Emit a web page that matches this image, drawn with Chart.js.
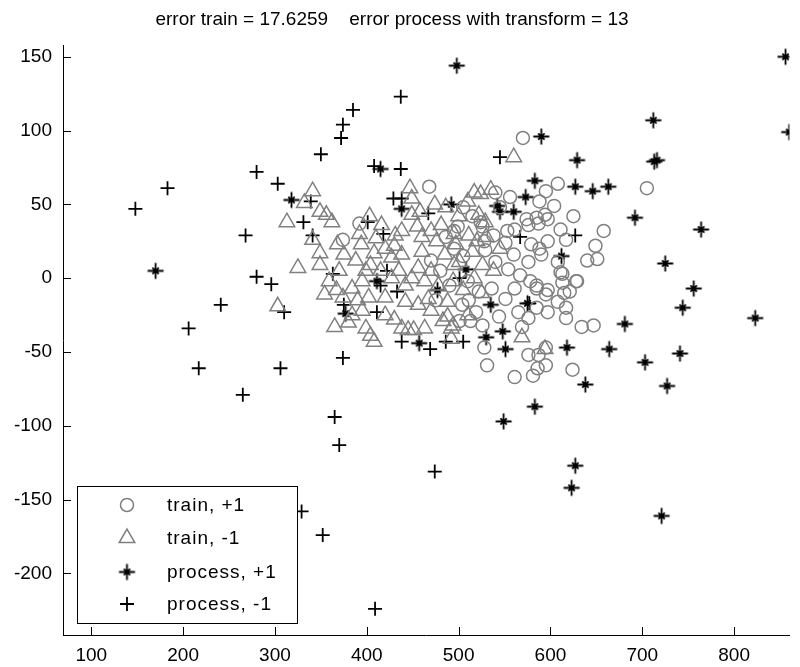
<!DOCTYPE html>
<html>
<head>
<meta charset="utf-8">
<title>error train / error process</title>
<script src="https://cdn.jsdelivr.net/npm/chart.js@4/dist/chart.umd.min.js"></script>
<style>
  html, body { margin: 0; padding: 0; background: #fff; overflow: hidden; }
  canvas { display: block; }
</style>
</head>
<body>
<canvas id="scatter" width="800" height="667"></canvas>
<script>
// tick values
const xTicks = [100, 200, 300, 400, 500, 600, 700, 800];
const yTicks = [-200, -150, -100, -50, 0, 50, 100, 150];

const titleText = 'error train = 17.6259    error process with transform = 13';
const seriesLabels = ['train, +1', 'train, -1', 'process, +1', 'process, -1'];

// train set, class +1 (circles)
const trainPos = [
  [570, 95], [468, 62], [705, 61], [658, 32], [625, 42], [608, 64], [595, 59], [604, 49],
  [588, 52], [585, 41], [597, 40], [611, 33], [597, 25], [649, 22], [617, 26], [640, 12],
  [651, 13], [628, -2], [611, 4], [634, -33], [647, -32], [597, -23], [617, -27], [617, -20],
  [595, -59], [586, -61], [587, -52], [595, -11], [585, -5], [588, 20], [621, -9], [624, -62],
  [499, 35], [526, 35], [561, 33], [576, 36], [587, 37], [594, 43], [579, 23], [590, 16],
  [608, 11], [576, 11], [560, 16], [567, 2], [554, 6], [540, 11], [529, 19], [551, 24],
  [613, 3], [629, -2], [613, -3], [597, -8], [615, -10], [608, -16], [585, -7], [578, -2],
  [561, -7], [551, -14], [536, -7], [522, -9], [511, -15], [504, -18], [519, -23], [544, -26],
  [565, -23], [576, -27], [585, -20], [569, -33], [526, -32], [513, -29], [501, -29], [528, -47],
  [531, -59], [576, -52], [561, -67], [595, -47], [581, -66], [392, 37], [374, 26], [574, 40],
  [524, 38], [538, 29], [553, 32], [528, 25], [495, 32], [480, 5], [490, -5], [475, -15],
  [505, 15], [495, 20], [510, -2], [470, 12], [505, 48], [515, 42], [545, 48], [556, 55],
  [540, 58], [486, 28]
];

// train set, class -1 (triangles)
const trainNeg = [
  [332, 51], [313, 38], [303, -19], [325, 7], [560, 82], [447, 61], [517, 58], [535, 60],
  [341, 59], [349, 45], [356, 43], [362, 38], [449, 54], [486, 48], [510, 52], [524, 57],
  [341, 26], [349, 17], [349, 9], [368, 23], [375, 16], [388, 12], [394, 23], [403, 42],
  [449, 43], [438, 32], [431, 29], [410, 27], [408, 17], [420, 20], [427, 14], [404, 9],
  [438, 16], [460, 18], [470, 32], [481, 36], [476, 25], [485, 16], [495, 9], [470, 5],
  [456, 7], [449, 0], [463, -2], [435, 5], [395, -2], [384, -7], [367, -8], [359, -2],
  [354, -11], [374, -13], [390, -15], [402, -13], [420, -13], [442, -16], [456, -18], [467, -14],
  [488, -16], [488, -26], [483, -29], [492, -34], [365, -33], [399, -34], [404, -39], [408, -43],
  [420, -25], [384, -25], [438, -34], [445, -35], [451, -35], [463, -34], [427, 0], [399, 5],
  [497, 23], [511, 29], [520, 25], [515, 18], [501, 11], [526, 9], [522, 43], [529, 38],
  [494, -2], [517, 0], [594, -48], [569, -40], [494, -32], [492, -41], [458, 45], [474, 50],
  [500, 42], [460, 28], [430, 22], [415, 5], [442, -5], [478, -5], [505, -8], [470, -22],
  [430, -28], [395, -22], [380, -30], [510, -25], [525, -10], [538, 5], [545, 20], [530, 28],
  [416, 36], [392, 30], [370, 5], [455, 35], [495, 30]
];

// processed set, class +1 (asterisks)
const procPos = [
  [856, 150], [860, 99], [712, 107], [713, 79], [716, 80], [590, 96], [629, 80], [583, 66],
  [627, 62], [646, 59], [663, 62], [573, 55], [692, 41], [764, 33], [498, 144], [415, 74],
  [438, 47], [492, 50], [542, 49], [545, 45], [560, 45], [318, 53], [170, 5], [411, -2],
  [477, -8], [508, 6], [535, -18], [575, -17], [377, -24], [530, -40], [548, -36], [551, -48],
  [457, -44], [549, -97], [583, -87], [612, 15], [725, 10], [756, -7], [744, -20], [823, -27],
  [681, -31], [618, -47], [664, -48], [703, -57], [741, -51], [638, -72], [727, -73], [627, -127],
  [623, -142], [721, -161]
];

// processed set, class -1 (plus signs)
const procNeg = [
  [280, 72], [303, 64], [183, 61], [148, 47], [331, 38], [268, 29], [437, 123], [385, 114],
  [374, 104], [372, 95], [350, 84], [408, 76], [437, 74], [545, 82], [429, 54], [438, 54],
  [467, 44], [339, 52], [341, 29], [401, 38], [418, 30], [567, 28], [627, 29], [280, 1],
  [296, -4], [241, -18], [310, -23], [206, -34], [217, -61], [306, -61], [265, -79], [363, 3],
  [422, 5], [415, -5], [433, -9], [501, 0], [577, -17], [375, -18], [411, -23], [438, -43],
  [469, -48], [486, -43], [505, -43], [374, -54], [365, -94], [370, -113], [474, -131], [329, -158],
  [352, -174], [409, -224]
];

const FONT = '"Liberation Sans", Arial, Helvetica, sans-serif';
const GREY = '#808080';

// MATLAB-like '*' marker: plus with short diagonals and a dark centre
function makeAsterisk() {
  const c = document.createElement('canvas');
  c.width = 19; c.height = 19;
  const g = c.getContext('2d');
  g.strokeStyle = '#000';
  g.fillStyle = '#000';
  g.lineWidth = 1.8;
  g.beginPath();
  g.moveTo(9.5, 1.5); g.lineTo(9.5, 17.5);
  g.moveTo(1.5, 9.5); g.lineTo(17.5, 9.5);
  g.moveTo(6.3, 6.3); g.lineTo(12.7, 12.7);
  g.moveTo(12.7, 6.3); g.lineTo(6.3, 12.7);
  g.stroke();
  g.beginPath();
  g.arc(9.5, 9.5, 2.4, 0, Math.PI * 2);
  g.fill();
  return c;
}
const asterisk = makeAsterisk();

const toXY = arr => arr.map(p => ({ x: p[0], y: p[1] }));

const datasets = [
  { label: seriesLabels[0], data: toXY(trainPos), pointStyle: 'circle', pointRadius: 6.5,
    borderColor: GREY, backgroundColor: 'rgba(0,0,0,0)', borderWidth: 1.5 },
  { label: seriesLabels[1], data: toXY(trainNeg), pointStyle: 'triangle', pointRadius: 9,
    borderColor: GREY, backgroundColor: 'rgba(0,0,0,0)', borderWidth: 1.5 },
  { label: seriesLabels[2], data: toXY(procPos), pointStyle: asterisk, pointRadius: 8,
    borderColor: '#000', backgroundColor: '#000', borderWidth: 1.8 },
  { label: seriesLabels[3], data: toXY(procNeg), pointStyle: 'cross', pointRadius: 7,
    borderColor: '#000', backgroundColor: '#000', borderWidth: 1.8 }
];

// legend marker, same shapes as the plotted points
function drawMarker(ctx, ds, x, y) {
  const st = ds.pointStyle, r = ds.pointRadius;
  if (st instanceof HTMLCanvasElement) {
    ctx.drawImage(st, x - st.width / 2, y - st.height / 2);
    return;
  }
  ctx.save();
  ctx.strokeStyle = ds.borderColor;
  ctx.lineWidth = ds.borderWidth;
  ctx.beginPath();
  if (st === 'circle') {
    ctx.arc(x, y, r, 0, Math.PI * 2);
  } else if (st === 'triangle') {
    let a = 0;
    ctx.moveTo(x + Math.sin(a) * r, y - Math.cos(a) * r);
    a += Math.PI * 2 / 3;
    ctx.lineTo(x + Math.sin(a) * r, y - Math.cos(a) * r);
    a += Math.PI * 2 / 3;
    ctx.lineTo(x + Math.sin(a) * r, y - Math.cos(a) * r);
    ctx.closePath();
  } else if (st === 'cross') {
    ctx.moveTo(x, y - r); ctx.lineTo(x, y + r);
    ctx.moveTo(x - r, y); ctx.lineTo(x + r, y);
  }
  ctx.stroke();
  ctx.restore();
}

const decor = {
  id: 'decor',
  afterDraw(chart) {
    const { ctx, chartArea: area, scales } = chart;
    ctx.save();

    // inward tick marks
    ctx.strokeStyle = '#000';
    ctx.lineWidth = 1;
    ctx.beginPath();
    xTicks.forEach(v => {
      const px = Math.round(scales.x.getPixelForValue(v)) + 0.5;
      ctx.moveTo(px, area.bottom);
      ctx.lineTo(px, area.bottom - 8);
    });
    yTicks.forEach(v => {
      const py = Math.round(scales.y.getPixelForValue(v)) + 0.5;
      ctx.moveTo(area.left, py);
      ctx.lineTo(area.left + 8, py);
    });
    ctx.stroke();

    // title
    ctx.fillStyle = '#000';
    ctx.font = '19px ' + FONT;
    ctx.textAlign = 'center';
    ctx.textBaseline = 'alphabetic';
    ctx.fillText(titleText, 392, 25);

    // legend box, lower left
    const box = { x: 77.5, y: 486.5, w: 220, h: 137 };
    ctx.fillStyle = '#fff';
    ctx.fillRect(box.x, box.y, box.w, box.h);
    ctx.strokeStyle = '#000';
    ctx.strokeRect(box.x, box.y, box.w, box.h);
    ctx.font = '19px ' + FONT;
    ctx.textAlign = 'left';
    ctx.textBaseline = 'middle';
    if ('letterSpacing' in ctx) ctx.letterSpacing = '1px';
    const rowY = [505, 538, 572, 604];
    chart.data.datasets.forEach((ds, i) => {
      drawMarker(ctx, ds, 127, rowY[i]);
      ctx.fillStyle = '#000';
      ctx.fillText(ds.label, 167, rowY[i] + 1);
    });
    ctx.restore();
  }
};

new Chart(document.getElementById('scatter'), {
  type: 'scatter',
  data: { datasets },
  options: {
    responsive: false,
    animation: false,
    devicePixelRatio: 1,
    layout: { padding: { top: 45, right: 0, bottom: 0, left: 0 } },
    plugins: {
      legend: { display: false },
      title: { display: false },
      tooltip: { enabled: false }
    },
    scales: {
      x: {
        type: 'linear',
        min: 69.2,
        max: 860.3,
        grid: { display: false, drawTicks: false },
        border: { display: true, color: '#000', width: 1 },
        ticks: { color: '#000', font: { family: FONT, size: 19 }, padding: 9,
                 maxRotation: 0, autoSkip: false },
        afterBuildTicks: s => { s.ticks = xTicks.map(v => ({ value: v })); },
        afterFit: s => { s.height = 32; }
      },
      y: {
        type: 'linear',
        min: -241.7,
        max: 158,
        grid: { display: false, drawTicks: false },
        border: { display: true, color: '#000', width: 1 },
        ticks: { color: '#000', font: { family: FONT, size: 19 }, padding: 11, autoSkip: false },
        afterBuildTicks: s => { s.ticks = yTicks.map(v => ({ value: v })); },
        afterFit: s => { s.width = 63; }
      }
    }
  },
  plugins: [decor]
});
</script>
</body>
</html>
